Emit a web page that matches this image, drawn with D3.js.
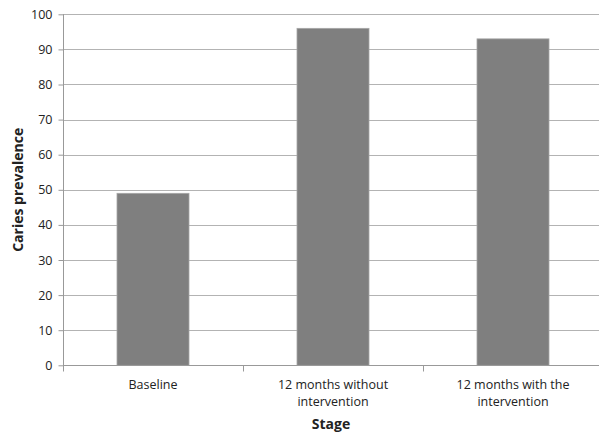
<!DOCTYPE html>
<html><head><meta charset="utf-8">
<script src="https://cdn.jsdelivr.net/npm/d3@7"></script>
<style>body{margin:0;background:#fff}svg{display:block}text{font-family:"Open Sans",sans-serif;fill:#222}</style>
</head><body><svg id="c" width="599" height="433"></svg>
<script>
const categories = [["Baseline"], ["12 months without", "intervention"], ["12 months with the", "intervention"]];
const values = [49, 96, 93];
const yTicks = [0, 10, 20, 30, 40, 50, 60, 70, 80, 90, 100];
const yTitle = "Caries prevalence";
const xTitle = "Stage";

const svg = d3.select("#c");
const m = {l: 63, r: 603, t: 14.3, b: 365.3};
const x = d3.scaleBand().domain(d3.range(categories.length)).range([m.l, m.r]).padding(0);
const y = d3.scaleLinear().domain([0, 100]).range([m.b, m.t]);

// gridlines
svg.append("g").selectAll("line").data(yTicks.filter(d => d > 0)).join("line")
  .attr("x1", m.l).attr("x2", m.r).attr("y1", d => Math.round(y(d)) + 0.5).attr("y2", d => Math.round(y(d)) + 0.5)
  .attr("stroke", "#b3b3b3").attr("stroke-width", 1);

// bars
const bw = x.bandwidth() * 0.4;
svg.append("g").selectAll("rect").data(values).join("rect")
  .attr("x", (d, i) => x(i) + x.bandwidth() / 2 - bw / 2)
  .attr("y", d => y(d))
  .attr("width", bw).attr("height", d => y(0) - y(d))
  .attr("fill", "#7f7f7f").attr("stroke", "#a6a6a6").attr("stroke-width", 0.8);

// y axis
const ya = svg.append("g").attr("transform", `translate(${m.l + 0.5},0)`)
  .call(d3.axisLeft(y).tickValues(yTicks).tickSize(5).tickPadding(6).tickFormat(d3.format("d")));
ya.select(".domain").attr("stroke", "#999").attr("d", `M0,${m.t}V${m.b}`);
ya.selectAll(".tick line").attr("stroke", "#999");
ya.selectAll(".tick text").attr("font-size", 12.5).attr("fill", "#222").style("font-family", "Open Sans");

// x axis
const xa = svg.append("g").attr("transform", `translate(0,${Math.round(m.b) + 0.5})`);
xa.append("line").attr("x1", m.l).attr("x2", m.r).attr("stroke", "#999");
xa.selectAll(".tk").data(d3.range(categories.length + 1)).join("line")
  .attr("x1", i => Math.round(m.l + i * x.step()) + 0.5).attr("x2", i => Math.round(m.l + i * x.step()) + 0.5)
  .attr("y1", 0).attr("y2", 6).attr("stroke", "#999");
const lbl = svg.append("g").selectAll("text").data(categories).join("text")
  .attr("text-anchor", "middle").attr("font-size", 12.5)
  .attr("transform", (d, i) => `translate(${x(i) + x.bandwidth() / 2},389)`);
lbl.selectAll("tspan").data(d => d).join("tspan")
  .attr("x", 0).attr("dy", (d, j) => j === 0 ? 0 : 17).text(d => d);

// titles
svg.append("text").attr("x", 331).attr("y", 429).attr("text-anchor", "middle")
  .attr("font-size", 14).attr("font-weight", "bold").text(xTitle);
svg.append("text").attr("transform", `translate(23,${(m.t + m.b) / 2}) rotate(-90)`).attr("text-anchor", "middle")
  .attr("font-size", 14).attr("font-weight", "bold").text(yTitle);
</script></body></html>
